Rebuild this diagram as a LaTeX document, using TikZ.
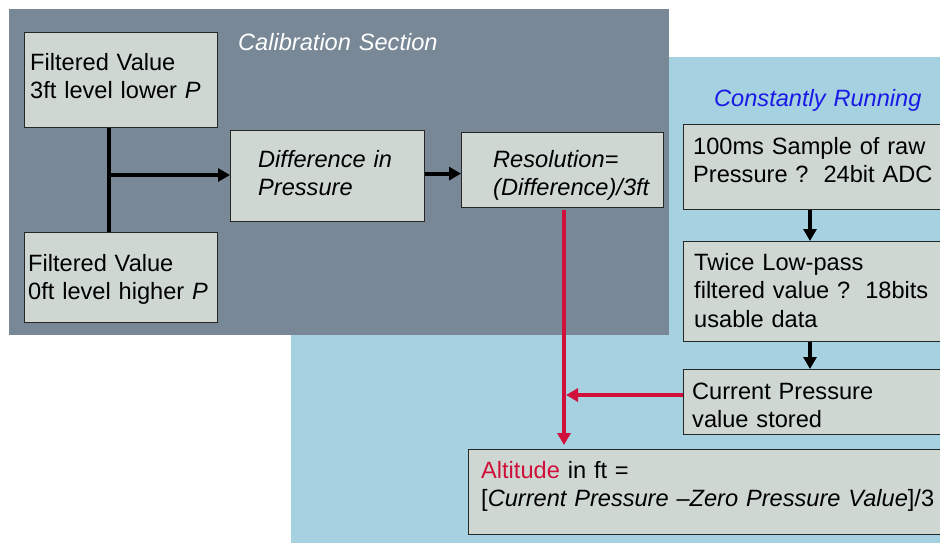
\documentclass[tikz,border=0pt]{standalone}
\usepackage{fontspec}
\setmainfont{Liberation Sans}
\usetikzlibrary{arrows.meta}
\definecolor{panelgray}{RGB}{120,136,150}
\definecolor{panelblue}{RGB}{165,209,225}
\definecolor{boxfill}{RGB}{206,215,210}
\definecolor{altred}{RGB}{208,16,58}
\definecolor{runblue}{RGB}{25,25,230}
\begin{document}
\begin{tikzpicture}[x=1pt,y=-1pt,
  box/.style={draw=black!85, line width=1.2pt, fill=boxfill, inner sep=0pt, anchor=north west},
  txt/.style={anchor=base west, inner sep=0pt, text width=470pt, align=left,
              font=\fontsize{23.6pt}{28.7pt}\selectfont},
  blk/.style={line width=4.2pt, -{Triangle[length=12pt,width=13pt]}},
  redarr/.style={draw=altred, line width=4pt, -{Triangle[length=12pt,width=13pt]}}]
\useasboundingbox (0,0) rectangle (940,542);
\clip (0,0) rectangle (940,542);
% panels
\fill[panelblue] (291,57) rectangle (960,560);
\fill[panelgray] (9,9) rectangle (669,335);
% boxes
\node[box, minimum width=193pt, minimum height=95pt] (bA) at (24,32) {};
\node[box, minimum width=193pt, minimum height=90pt] (bB) at (24,232) {};
\node[box, minimum width=194pt, minimum height=91pt] (bD) at (230,130) {};
\node[box, minimum width=202pt, minimum height=75pt] (bR) at (461,132) {};
\node[box, minimum width=280pt, minimum height=85pt] (b1) at (683,124) {};
\node[box, minimum width=280pt, minimum height=100pt] (b2) at (683,241) {};
\node[box, minimum width=280pt, minimum height=65pt] (b3) at (683,369) {};
\node[box, minimum width=500pt, minimum height=85pt] (bAlt) at (468,449) {};
% texts
\node[txt, text=white, font=\fontsize{23.6pt}{28.7pt}\selectfont\itshape] (tCal) at (238,50) {Calibration Section};
\node[txt, text=runblue, font=\fontsize{23.6pt}{28.7pt}\selectfont\itshape] (tRun) at (714,106) {Constantly Running};
\node[txt] (tA) at (30,70) {Filtered Value\\3ft level lower \textit{P}};
\node[txt] (tB) at (28,271) {Filtered Value\\0ft level higher \textit{P}};
\node[txt, font=\fontsize{23.6pt}{28.7pt}\selectfont\itshape] (tD) at (258,167) {Difference in\\Pressure};
\node[txt, font=\fontsize{23.6pt}{28.7pt}\selectfont\itshape] (tR) at (493,167) {Resolution=\\(Difference)/3ft};
\node[txt] (t1) at (693,154) {100ms Sample of raw\\Pressure ?\hspace{15pt}24bit ADC};
\node[txt] (t2) at (694,270) {Twice Low-pass\\filtered value ?\hspace{15pt}18bits\\usable data};
\node[txt] (t3) at (692,399) {Current Pressure\\value stored};
\node[txt] (tAlt) at (481,478) {\textcolor{altred}{Altitude} in ft =\\{[}\textit{Current Pressure –Zero Pressure Value}{]}/3};
% connectors
\coordinate (jn) at (109,175);
\draw[line width=3.5pt] (jn |- bA.south) -- (jn |- bB.north);
\draw[blk] (jn) -- (jn -| bD.west);
\draw[blk] ([yshift=2.5pt]bD.east) -- ([yshift=2.5pt]bD.east -| bR.west);
\coordinate (bv) at (810,0);
\draw[blk] (bv |- b1.south) -- (bv |- b2.north);
\draw[blk] (bv |- b2.south) -- (bv |- b3.north);
\coordinate (rv) at (564,0);
\draw[redarr, shorten <=2pt, shorten >=4pt] (rv |- bR.south) -- (rv |- bAlt.north);
\coordinate (rj) at (566,395);
\draw[redarr] (b3.west |- rj) -- (rj);
\end{tikzpicture}
\end{document}
